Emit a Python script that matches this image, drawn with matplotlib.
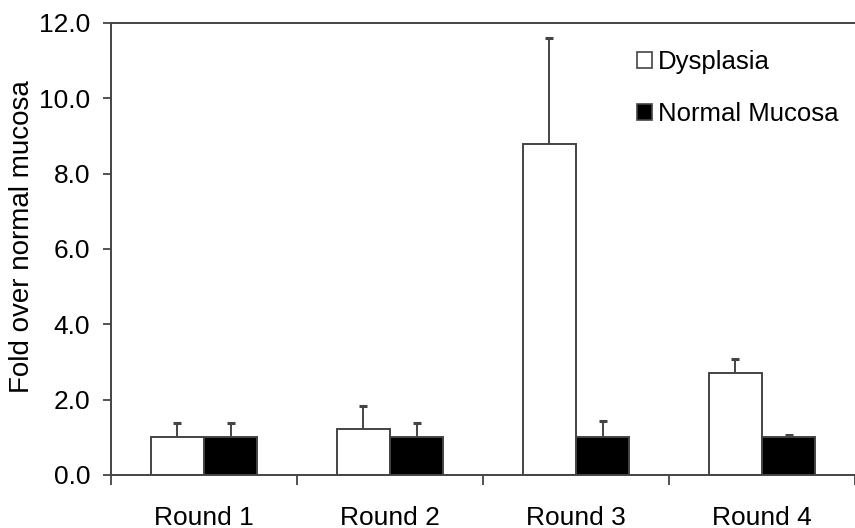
import matplotlib
matplotlib.use("Agg")
import matplotlib.pyplot as plt
from matplotlib.patches import Patch
import matplotlib.transforms as mtransforms
import numpy as np

categories = ["Round 1", "Round 2", "Round 3", "Round 4"]
dysplasia = [1.02, 1.22, 8.8, 2.72]
dysplasia_err = [0.35, 0.60, 2.80, 0.36]
normal = [1.0, 1.0, 1.0, 1.0]
normal_err = [0.38, 0.38, 0.43, 0.07]
yticks = [0, 2, 4, 6, 8, 10, 12]

plt.rcParams['font.family'] = ['Liberation Sans', 'DejaVu Sans']
W, H = 855, 528
fig = plt.figure(figsize=(W/100, H/100), dpi=100)
ax = fig.add_axes([111/W, 1-475/H, 1-111/W, (475-23)/H])

edge = '#444444'
x = np.arange(len(categories))
bw = 0.287

def draw(xpos, vals, errs, fc, label):
    ax.bar(xpos, vals, bw, color=fc, edgecolor=edge, linewidth=1.4, label=label, zorder=2)
    tops = np.array(vals) + np.array(errs)
    ax.vlines(xpos, vals, tops, color=edge, linewidth=1.4, zorder=3)
    ax.plot(xpos, tops, linestyle='none', marker='_', markersize=6,
            markeredgewidth=2.2, color=edge, zorder=3)

draw(x - bw/2, dysplasia, dysplasia_err, 'white', 'Dysplasia')
draw(x + bw/2, normal, normal_err, 'black', 'Normal Mucosa')

ax.set_xlim(-0.5, -0.5 + (W-111)/188)
ax.set_ylim(0, 12)
ax.set_yticks(yticks)
ax.set_yticklabels([f"{v:.1f}" for v in yticks], fontsize=19)
ax.set_xticks(x)
ax.set_xticklabels(categories, fontsize=19)
shift = mtransforms.ScaledTranslation(-4/100, 0, fig.dpi_scale_trans)
for lbl in ax.get_xticklabels():
    lbl.set_transform(lbl.get_transform() + shift)
ax.tick_params(axis='x', which='major', length=0, pad=22)
ax.set_xticks(np.arange(-0.5, 3.6, 1.0), minor=True)
ax.tick_params(axis='x', which='minor', length=7, width=1.3, color=edge, direction='out')
ax.tick_params(axis='y', length=6, width=1.3, color=edge, direction='out', pad=9)

for s in ['left', 'bottom', 'top']:
    ax.spines[s].set_color(edge)
    ax.spines[s].set_linewidth(1.4)
ax.spines['right'].set_visible(False)

ax.set_ylabel("Fold over normal mucosa", fontsize=20)
ax.yaxis.set_label_coords(-(111-35)/(W-111), (475-236.5)/(475-23))

handles = [Patch(facecolor='white', edgecolor=edge, linewidth=1.2, label='Dysplasia'),
           Patch(facecolor='black', edgecolor=edge, linewidth=1.2, label='Normal Mucosa')]
ax.legend(handles=handles, loc='upper left', bbox_to_anchor=(637/W, 1-50/H),
          bbox_transform=fig.transFigure, frameon=False, fontsize=18.5,
          handlelength=0.6, handleheight=0.6, handletextpad=0.2, labelspacing=1.1,
          borderaxespad=0, borderpad=0)

fig.savefig("out.png", dpi=100)
